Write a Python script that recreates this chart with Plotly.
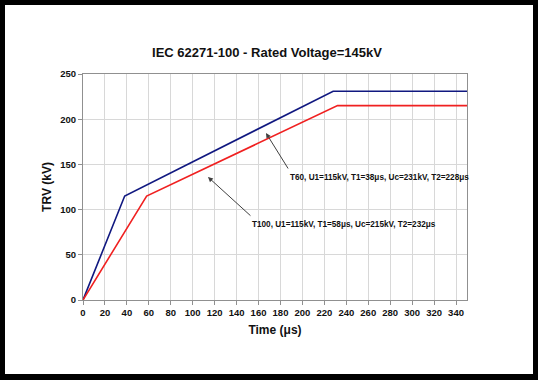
import plotly.graph_objects as go

# Data
t60_time = [0, 38, 228, 350]
t60_trv = [0, 115, 231, 231]
t100_time = [0, 58, 232, 350]
t100_trv = [0, 115, 215, 215]

title_text = "IEC 62271-100 - Rated Voltage=145kV"
t60_label = "T60, U1=115kV, T1=38μs, Uc=231kV, T2=228μs"
t100_label = "T100, U1=115kV, T1=58μs, Uc=215kV, T2=232μs"

FONT = "Arial, Liberation Sans, sans-serif"

fig = go.Figure()
fig.add_trace(go.Scatter(x=t60_time, y=t60_trv, mode="lines",
                         line=dict(color="#101880", width=1.6), name="T60"))
fig.add_trace(go.Scatter(x=t100_time, y=t100_trv, mode="lines",
                         line=dict(color="#f02020", width=1.6), name="T100"))

L, R, T, B = 83, 71, 74, 80
W, H = 538, 380
pw, ph = W - L - R, H - T - B

def px2paper_x(px):
    return (px - L) / pw

def px2paper_y(py):
    return (H - B - py) / ph

# white card on black background
fig.add_shape(type="rect", xref="paper", yref="paper",
              x0=px2paper_x(5), x1=px2paper_x(533),
              y0=px2paper_y(374), y1=px2paper_y(5),
              fillcolor="white", line=dict(width=0), layer="below")

# arrows
fig.add_annotation(x=166.8, y=184.7, ax=187.8, ay=143.8, axref="x", ayref="y",
                   xref="x", yref="y", text="", showarrow=True,
                   arrowhead=2, arrowsize=1, arrowwidth=1, arrowcolor="#404040")
fig.add_annotation(x=113.9, y=136.1, ax=154, ay=91.8, axref="x", ayref="y",
                   xref="x", yref="y", text="", showarrow=True,
                   arrowhead=2, arrowsize=1, arrowwidth=1, arrowcolor="#404040")
# labels
fig.add_annotation(x=186.5, y=135, xref="x", yref="y", text=t60_label,
                   showarrow=False, xanchor="left", yanchor="middle",
                   font=dict(family=FONT, size=8.2, color="#111111", weight="bold"))
fig.add_annotation(x=152, y=83, xref="x", yref="y", text=t100_label,
                   showarrow=False, xanchor="left", yanchor="middle",
                   font=dict(family=FONT, size=8.2, color="#111111", weight="bold"))

fig.update_layout(
    width=W, height=H,
    margin=dict(l=L, r=R, t=T, b=B),
    paper_bgcolor="black",
    plot_bgcolor="white",
    showlegend=False,
    title=dict(text=title_text, x=px2paper_x(267), xref="paper", xanchor="center",
               y=1 - 52 / H, yanchor="middle",
               font=dict(family=FONT, size=13, color="#111111", weight="bold")),
    font=dict(family=FONT),
)
fig.update_xaxes(range=[0, 350], dtick=20, tick0=0, showgrid=True, gridcolor="#d8d8d8",
                 gridwidth=1, showline=True, linecolor="#909090", linewidth=1, mirror=True,
                 ticks="outside", ticklen=4, tickcolor="#909090", zeroline=False,
                 tickfont=dict(family=FONT, size=9.5, color="#111111", weight="bold"),
                 title=dict(text="Time (μs)", standoff=8,
                            font=dict(family=FONT, size=12, color="#111111", weight="bold")))
fig.update_yaxes(range=[0, 250], dtick=50, tick0=0, showgrid=True, gridcolor="#d8d8d8",
                 gridwidth=1, showline=True, linecolor="#909090", linewidth=1, mirror=True,
                 ticks="outside", ticklen=4, tickcolor="#909090", zeroline=False,
                 tickfont=dict(family=FONT, size=9.5, color="#111111", weight="bold"),
                 title=dict(text="TRV (kV)", standoff=6,
                            font=dict(family=FONT, size=12, color="#111111", weight="bold")))

fig.write_html("out.html", config={"displayModeBar": False},
               post_script="document.body.style.margin='0';document.body.style.overflow='hidden';")
